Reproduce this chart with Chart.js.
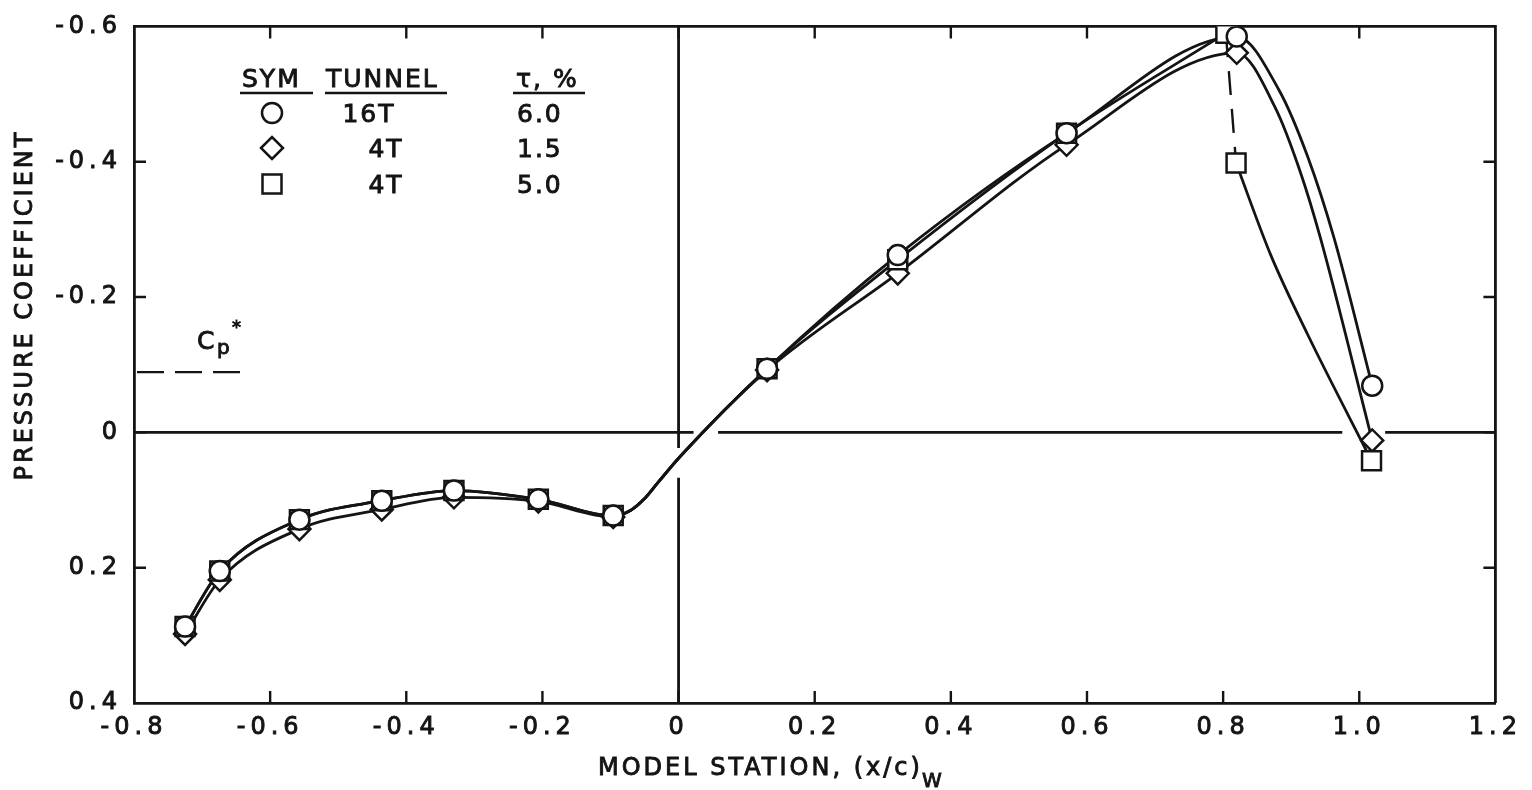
<!DOCTYPE html>
<html>
<head>
<meta charset="utf-8">
<script src="https://cdn.jsdelivr.net/npm/chart.js@4.4.1/dist/chart.umd.min.js"></script>
<style>
  html, body { margin: 0; padding: 0; background: #fff; }
  #wrap { width: 1532px; height: 790px; }
</style>
</head>
<body>
<div id="wrap"><canvas id="cp-chart" width="1532" height="790"></canvas></div>
<script>
/* pressure distribution, model station vs pressure coefficient
   values */

// orifice stations (x/c)_W
const stations     = [-0.725, -0.674, -0.557, -0.436, -0.330, -0.206, -0.096, 0.130, 0.322, 0.570, 0.820, 1.019];
const stations4T50 = [-0.725, -0.674, -0.557, -0.436, -0.330, -0.206, -0.096, 0.130, 0.322, 0.570, 0.804, 0.819, 1.018];

// pressure coefficients
const cp16T_60 = [0.287, 0.205, 0.129, 0.101, 0.086, 0.099, 0.123, -0.094, -0.262, -0.442, -0.585, -0.069];
const cp4T_15  = [0.298, 0.218, 0.143, 0.114, 0.096, 0.102, 0.125, -0.092, -0.235, -0.425, -0.561, 0.012];
const cp4T_50  = [0.287, 0.205, 0.129, 0.101, 0.086, 0.099, 0.123, -0.094, -0.255, -0.442, -0.590, -0.398, 0.042];

// points on the faired curves between orifices
const fairX        = [-0.070, -0.051, -0.031, 0.003];
const fairCp       = [0.115, 0.099, 0.075, 0.035];
const fairAft60X   = [0.882, 0.924, 0.963];
const fairAft60Cp  = [-0.506, -0.408, -0.287];
const fairAft15X   = [0.876, 0.914, 0.943];
const fairAft15Cp  = [-0.481, -0.383, -0.287];
const fairAft50X   = [0.870, 0.924];
const fairAft50Cp  = [-0.262, -0.145];

// sonic value
const cpStar     = -0.089;
const cpStarSpan = [-0.8, -0.64];

// axes
const xTicks      = [-0.8, -0.6, -0.4, -0.2, 0, 0.2, 0.4, 0.6, 0.8, 1.0, 1.2];
const xTickLabels = ['-0.8', '-0.6', '-0.4', '-0.2', '0', '0.2', '0.4', '0.6', '0.8', '1.0', '1.2'];
const yTicks      = [-0.6, -0.4, -0.2, 0, 0.2, 0.4];
const yTickLabels = ['-0.6', '-0.4', '-0.2', '0', '0.2', '0.4'];

// legend table
const legendSym    = ['circle', 'rectRot', 'rect'];
const legendTunnel = ['16T', '4T', '4T'];
const legendTau    = ['6.0', '1.5', '5.0'];

const ink  = '#141414';
const font = '"DejaVu Sans", "Liberation Sans", sans-serif';

// pen-lift gaps where the curves cross the zero lines
const zeroGapsX  = [[0.022, 0.058], [0.975, 1.038]];
const zeroGapsCp = [[0.023, 0.067]];

const pts = (xs, ys) => xs.map((v, i) => ({ x: v, y: ys[i] }));
const faired = (xs, ys, ex, ey) => pts(xs, ys).concat(pts(ex, ey)).sort((a, b) => a.x - b.x);
const shockIdx = stations4T50.indexOf(0.804);

function line(data, extra) {
    return Object.assign({
        data, showLine: true, pointRadius: 0, borderColor: ink, borderWidth: 2.8,
        cubicInterpolationMode: 'monotone', fill: false, order: 5
    }, extra || {});
}
function marks(label, data, style, r, order) {
    return {
        label, data, showLine: false, pointStyle: style, pointRadius: r,
        pointBackgroundColor: '#fff', pointBorderColor: ink, pointBorderWidth: 2.5, order
    };
}

function drawMarker(ctx, style, x, y) {
    ctx.beginPath();
    if (style === 'circle') ctx.arc(x, y, 10, 0, Math.PI * 2);
    else if (style === 'rectRot') { ctx.moveTo(x - 11, y); ctx.lineTo(x, y - 11); ctx.lineTo(x + 11, y); ctx.lineTo(x, y + 11); ctx.closePath(); }
    else ctx.rect(x - 9.5, y - 9.5, 19, 19);
    ctx.fillStyle = '#fff'; ctx.fill();
    ctx.lineWidth = 2.5; ctx.strokeStyle = ink; ctx.stroke();
}

// text with a light outline so it reads like pen lettering
function pen(ctx, txt, x, y) {
    ctx.fillText(txt, x, y);
    ctx.strokeText(txt, x, y);
}

function gapped(min, max, gaps) {
    const out = []; let s = min;
    gaps.forEach(g => { out.push([s, g[0]]); s = g[1]; });
    out.push([s, max]);
    return out;
}

const plotFrame = {
    id: 'plotFrame',
    beforeLayout(chart) { chart.ctx.letterSpacing = '5px'; },
    beforeDraw(chart) { chart.ctx.letterSpacing = '5px'; },
    beforeDatasetsDraw(chart) {
        const { ctx, chartArea: a, scales: { x, y } } = chart;
        ctx.save();
        ctx.strokeStyle = ink;
        ctx.lineWidth = 2.8;
        ctx.beginPath();
        ctx.moveTo(a.left, a.top); ctx.lineTo(a.right, a.top); ctx.lineTo(a.right, a.bottom);
        ctx.stroke();

        // inward ticks on all four sides
        const tl = 12;
        ctx.lineWidth = 2.4;
        ctx.beginPath();
        xTicks.slice(1, -1).forEach(v => {
            const px = x.getPixelForValue(v);
            ctx.moveTo(px, a.bottom); ctx.lineTo(px, a.bottom - tl);
            ctx.moveTo(px, a.top);    ctx.lineTo(px, a.top + tl);
        });
        yTicks.slice(1, -1).forEach(v => {
            const py = y.getPixelForValue(v);
            ctx.moveTo(a.left, py);  ctx.lineTo(a.left + tl, py);
            ctx.moveTo(a.right, py); ctx.lineTo(a.right - tl, py);
        });
        ctx.stroke();

        // Cp = 0 and x = 0 reference lines
        ctx.lineWidth = 2.8;
        ctx.beginPath();
        const y0 = y.getPixelForValue(0);
        gapped(x.min, x.max, zeroGapsX).forEach(([u, v]) => {
            ctx.moveTo(x.getPixelForValue(u), y0); ctx.lineTo(x.getPixelForValue(v), y0);
        });
        const x0 = x.getPixelForValue(0);
        gapped(y.min, y.max, zeroGapsCp).forEach(([u, v]) => {
            ctx.moveTo(x0, y.getPixelForValue(u)); ctx.lineTo(x0, y.getPixelForValue(v));
        });
        ctx.stroke();

        // Cp* dashes
        const ys = y.getPixelForValue(cpStar);
        ctx.setLineDash([27, 11]);
        ctx.lineWidth = 2.4;
        ctx.beginPath();
        ctx.moveTo(x.getPixelForValue(cpStarSpan[0]) + 3, ys);
        ctx.lineTo(x.getPixelForValue(cpStarSpan[1]), ys);
        ctx.stroke();
        ctx.restore();
    },
    afterDraw(chart) {
        const { ctx, scales: { y } } = chart;
        ctx.save();
        ctx.fillStyle = ink;
        ctx.strokeStyle = ink;
        ctx.lineWidth = 0.9;

        // axis titles
        ctx.font = `24px ${font}`;
        ctx.letterSpacing = '3px';
        ctx.textBaseline = 'middle';
        ctx.textAlign = 'center';
        ctx.save();
        ctx.translate(26, 305);
        ctx.rotate(-Math.PI / 2);
        pen(ctx, 'PRESSURE COEFFICIENT', 0, 0);
        ctx.restore();

        ctx.textBaseline = 'alphabetic';
        ctx.textAlign = 'left';
        const xt = 'MODEL STATION, (x/c)';
        pen(ctx, xt, 598, 775);
        const w = ctx.measureText(xt).width;
        ctx.font = `20px ${font}`;
        pen(ctx, 'W', 598 + w - 1, 787);

        // Cp* label
        const ys = y.getPixelForValue(cpStar);
        ctx.letterSpacing = '0px';
        ctx.font = `25px ${font}`;
        pen(ctx, 'C', 197, ys - 23);
        ctx.font = `20px ${font}`;
        pen(ctx, 'p', 217, ys - 18);
        ctx.font = `18px ${font}`;
        pen(ctx, '*', 232, ys - 39);

        // legend table
        ctx.font = `25px ${font}`;
        ctx.letterSpacing = '2px';
        ctx.textAlign = 'left';
        pen(ctx, 'SYM', 242, 87);
        pen(ctx, 'TUNNEL', 326, 87);
        pen(ctx, '\u03c4, %', 516, 87);
        ctx.lineWidth = 2.5;
        ctx.beginPath();
        [[240, 313], [325, 447], [513, 585]].forEach(([a, b]) => { ctx.moveTo(a, 93); ctx.lineTo(b, 93); });
        ctx.stroke();

        const rowY = [113, 148, 184];
        legendSym.forEach((s, i) => {
            drawMarker(ctx, s, 272, rowY[i]);
            ctx.fillStyle = ink;
            ctx.lineWidth = 0.9;
            ctx.textAlign = 'center';
            pen(ctx, legendTunnel[i], i === 0 ? 369 : 386, rowY[i] + 9);
            ctx.textAlign = 'left';
            pen(ctx, legendTau[i], 517, rowY[i] + 9);
        });
        ctx.restore();
    }
};

new Chart(document.getElementById('cp-chart'), {
    type: 'line',
    data: {
        datasets: [
            marks('16T, \u03c4 = 6.0%', pts(stations, cp16T_60), 'circle', 10, 0),
            marks('4T, \u03c4 = 5.0%', pts(stations4T50, cp4T_50), 'rect', 13.4, 1),
            marks('4T, \u03c4 = 1.5%', pts(stations, cp4T_15), 'rectRot', 11, 2),
            line(faired(stations, cp16T_60, fairX.concat(fairAft60X), fairCp.concat(fairAft60Cp))),
            line(faired(stations, cp4T_15, fairX.concat(fairAft15X), fairCp.concat(fairAft15Cp))),
            line(faired(stations4T50.slice(0, shockIdx + 1), cp4T_50.slice(0, shockIdx + 1), fairX, fairCp)),
            line(pts(stations4T50.slice(shockIdx, shockIdx + 2), cp4T_50.slice(shockIdx, shockIdx + 2)),
                 { borderDash: [24, 14], borderWidth: 2.4, cubicInterpolationMode: 'default', tension: 0 }),
            line(faired(stations4T50.slice(shockIdx + 1), cp4T_50.slice(shockIdx + 1), fairAft50X, fairAft50Cp))
        ]
    },
    options: {
        responsive: false,
        animation: false,
        devicePixelRatio: 1,
        events: [],
        layout: { padding: { top: 19, right: 34, bottom: 0, left: 0 } },
        plugins: { legend: { display: false }, tooltip: { enabled: false } },
        scales: {
            x: {
                type: 'linear', min: -0.8, max: 1.2,
                afterBuildTicks: s => { s.ticks = xTicks.map(v => ({ value: v })); },
                afterFit: s => { s.height = 87; },
                ticks: { callback: (v, i) => xTickLabels[i], color: ink, padding: 10, maxRotation: 0, autoSkip: false,
                         textStrokeColor: ink, textStrokeWidth: 0.9,
                         font: { family: font, size: 24 } },
                grid: { display: false, drawTicks: false },
                border: { display: true, color: ink, width: 2.8 }
            },
            y: {
                type: 'linear', reverse: true, min: -0.6, max: 0.4,
                afterBuildTicks: s => { s.ticks = yTicks.map(v => ({ value: v })); },
                afterFit: s => { s.width = 134; },
                ticks: { callback: (v, i) => yTickLabels[i], color: ink, padding: 12, autoSkip: false,
                         textStrokeColor: ink, textStrokeWidth: 0.9,
                         font: { family: font, size: 24 } },
                grid: { display: false, drawTicks: false },
                border: { display: true, color: ink, width: 2.8 }
            }
        }
    },
    plugins: [plotFrame]
});
</script>
</body>
</html>
